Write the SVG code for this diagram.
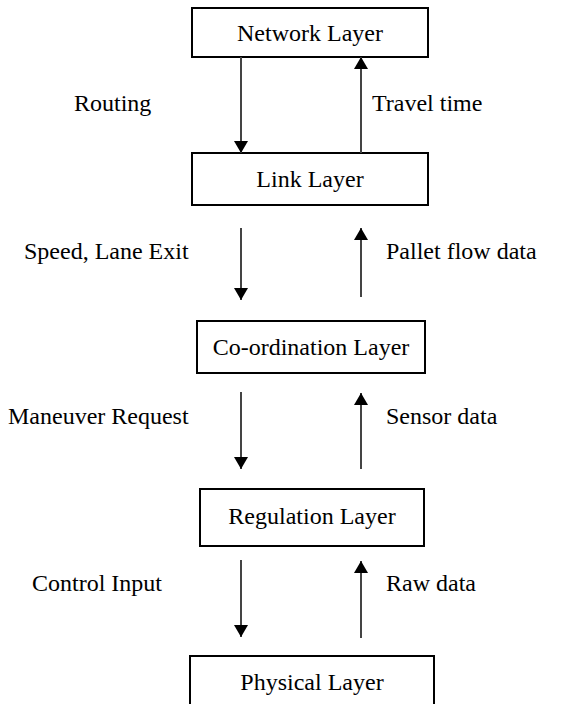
<svg xmlns="http://www.w3.org/2000/svg" width="566" height="704" viewBox="0 0 566 704">
  <defs>
    <style>
      .box { fill: #fff; stroke: #000; stroke-width: 2; }
      .t { font-family: "Liberation Serif", "Times New Roman", serif; font-size: 24px; fill: #000; }
      .c { text-anchor: middle; }
      .ln { stroke: #444; stroke-width: 2; fill: none; }
    </style>
    <marker id="head" viewBox="0 0 12 14" refX="12" refY="7" markerWidth="12" markerHeight="14" markerUnits="userSpaceOnUse" orient="auto">
      <path d="M0,0 L12,7 L0,14 Z" fill="#000"/>
    </marker>
  </defs>
  <rect width="566" height="704" fill="#fff"/>

  <g id="network-layer">
    <rect class="box" x="192" y="8" width="236" height="49"/>
    <text class="t c" x="310" y="41">Network Layer</text>
  </g>
  <g id="link-layer">
    <rect class="box" x="192" y="153" width="236" height="52"/>
    <text class="t c" x="310" y="187">Link Layer</text>
  </g>
  <g id="coordination-layer">
    <rect class="box" x="197" y="321" width="228" height="52"/>
    <text class="t c" x="311" y="355">Co-ordination Layer</text>
  </g>
  <g id="regulation-layer">
    <rect class="box" x="200" y="489" width="224" height="57"/>
    <text class="t c" x="312" y="524">Regulation Layer</text>
  </g>
  <g id="physical-layer">
    <rect class="box" x="190" y="656" width="244" height="60"/>
    <text class="t c" x="312" y="690">Physical Layer</text>
  </g>

  <g id="connectors">
    <line class="ln" x1="241" y1="57" x2="241" y2="153" marker-end="url(#head)"/>
    <line class="ln" x1="361" y1="153" x2="361" y2="57" marker-end="url(#head)"/>
    <line class="ln" x1="241" y1="228" x2="241" y2="300" marker-end="url(#head)"/>
    <line class="ln" x1="361" y1="297" x2="361" y2="228" marker-end="url(#head)"/>
    <line class="ln" x1="241" y1="392" x2="241" y2="469" marker-end="url(#head)"/>
    <line class="ln" x1="361" y1="469" x2="361" y2="393" marker-end="url(#head)"/>
    <line class="ln" x1="241" y1="560" x2="241" y2="637" marker-end="url(#head)"/>
    <line class="ln" x1="361" y1="638" x2="361" y2="561" marker-end="url(#head)"/>
  </g>

  <g id="labels">
    <text class="t" x="74" y="111">Routing</text>
    <text class="t" x="372" y="111">Travel time</text>
    <text class="t" x="24" y="259">Speed, Lane Exit</text>
    <text class="t" x="386" y="259">Pallet flow data</text>
    <text class="t" x="8" y="424">Maneuver Request</text>
    <text class="t" x="386" y="424">Sensor data</text>
    <text class="t" x="32" y="591">Control Input</text>
    <text class="t" x="386" y="591">Raw data</text>
  </g>
</svg>
